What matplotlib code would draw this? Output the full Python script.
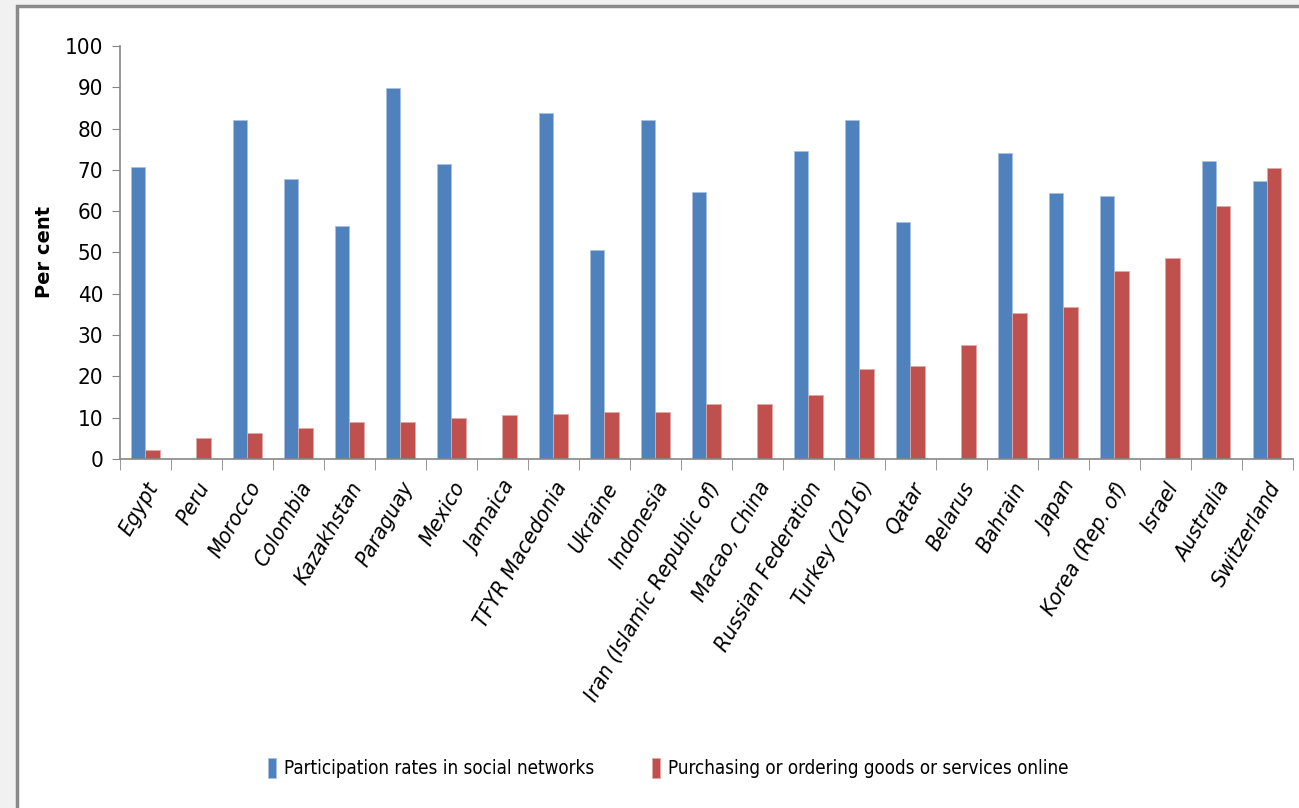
import numpy as np
import matplotlib
matplotlib.use("Agg")
import matplotlib.pyplot as plt
from matplotlib.patches import Rectangle

countries = ["Egypt", "Peru", "Morocco", "Colombia", "Kazakhstan", "Paraguay",
             "Mexico", "Jamaica", "TFYR Macedonia", "Ukraine", "Indonesia",
             "Iran (Islamic Republic of)", "Macao, China", "Russian Federation",
             "Turkey (2016)", "Qatar", "Belarus", "Bahrain", "Japan",
             "Korea (Rep. of)", "Israel", "Australia", "Switzerland"]

# None = no data for that country
social = [70.6, None, 82.2, 67.9, 56.4, 89.9, 71.5, None, 83.7, 50.5, 82.2,
          64.7, None, 74.6, 82.2, 57.5, None, 74.2, 64.5, 63.8, None, 72.1, 67.2]
purchasing = [2.2, 5.0, 6.4, 7.5, 8.9, 8.9, 10.0, 10.6, 11.0, 11.4, 11.4,
              13.4, 13.4, 15.5, 21.8, 22.4, 27.7, 35.4, 36.9, 45.5, 48.7, 61.2, 70.4]

labels = ["Participation rates in social networks",
          "Purchasing or ordering goods or services online"]
blue = "#4F81BD"
red = "#C0504D"

plt.rcParams["font.family"] = ["DejaVu Sans"]
plt.rcParams["font.stretch"] = "condensed"

fig = plt.figure(figsize=(12.99, 8.08), dpi=100)
fig.patch.set_facecolor("#f1f1f1")
# white chart area with grey frame
fig.patches.append(Rectangle((17 / 1299, -0.05), 1.1, 1 - 6 / 808 + 0.05,
                             transform=fig.transFigure, facecolor="white",
                             edgecolor="#8a8a8a", linewidth=2.5, zorder=-5))

ax = fig.add_axes([120 / 1299, 1 - 459 / 808, (1292.7 - 120) / 1299, (459 - 46) / 808])
ax.set_facecolor("none")
ax.set_zorder(2)

x = np.arange(len(countries))
w = 0.28
s_vals = [np.nan if v is None else v for v in social]
ax.bar(x - w / 2, s_vals, w, color=blue, edgecolor="#a9c1e0", linewidth=0.6,
       label=labels[0])
ax.bar(x + w / 2, purchasing, w, color=red, edgecolor="#e0a9a7", linewidth=0.6,
       label=labels[1])

ax.set_xlim(-0.5, len(countries) - 0.5)
ax.set_ylim(0, 100)
ax.set_yticks(range(0, 101, 10))
ax.tick_params(axis="y", labelsize=16, length=6, color="#868686", pad=6)
ax.set_xticks(x)
ax.set_xticklabels(countries, rotation=60, ha="right", rotation_mode="anchor",
                   fontsize=16, style="italic")
ax.tick_params(axis="x", length=0, pad=14)
ax.set_xticks(np.arange(-0.5, len(countries), 1), minor=True)
ax.tick_params(axis="x", which="minor", length=8, color="#868686")

for side in ["top", "right"]:
    ax.spines[side].set_visible(False)
for side in ["left", "bottom"]:
    ax.spines[side].set_color("#868686")
    ax.spines[side].set_linewidth(1.2)

fig.text(45 / 1299, 1 - 252 / 808, "Per cent", rotation=90, ha="center",
         va="center", fontsize=14, fontweight="bold", stretch="normal")

leg = fig.legend(loc="center", bbox_to_anchor=(668 / 1299, 1 - 768 / 808), ncol=2,
                 frameon=False, fontsize=13.5, handlelength=0.45, handleheight=1.3,
                 handletextpad=0.4, columnspacing=3.1)
leg.set_zorder(3)

fig.savefig("out.png", dpi=100, facecolor=fig.get_facecolor())
